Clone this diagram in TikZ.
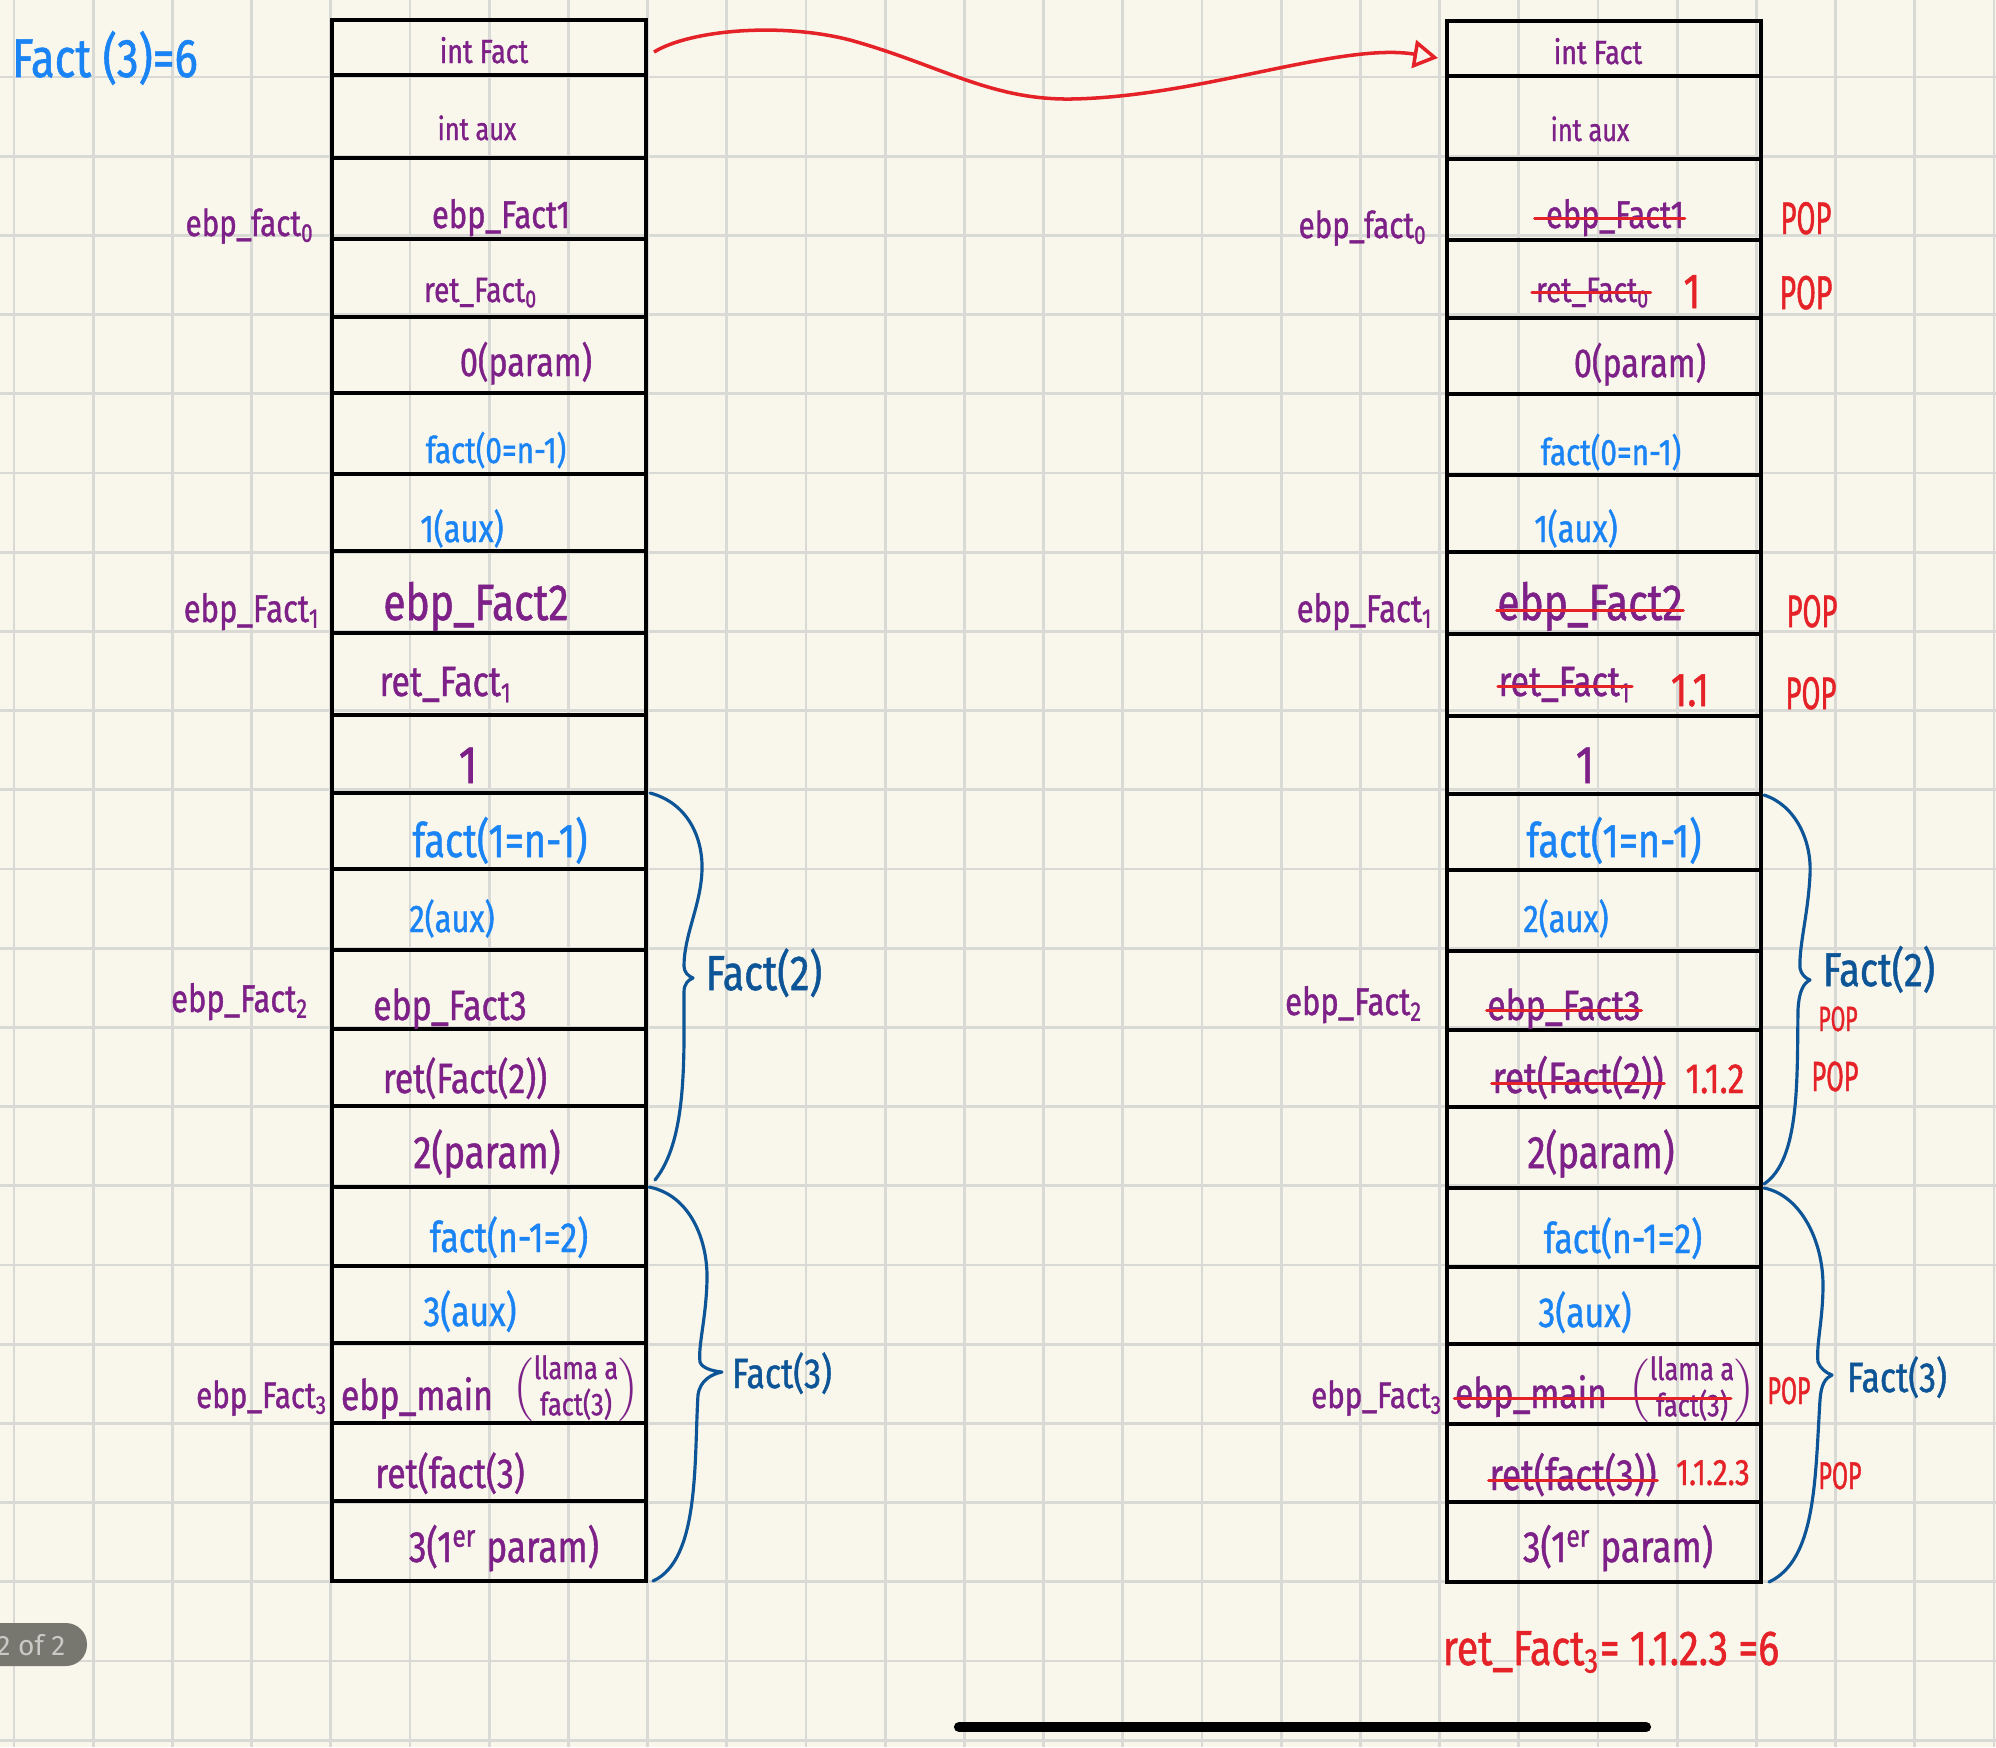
\documentclass[tikz,border=0pt]{standalone}
\usepackage{fontspec}
\setmainfont{Fira Sans}[FakeStretch=0.8, FakeBold=1]
\newfontfamily\popfont{Fira Sans}[FakeStretch=0.6, FakeBold=1]
\newfontfamily\uifont{Fira Sans}
\usetikzlibrary{arrows.meta,calc}

\definecolor{paper}{RGB}{249,247,235}
\definecolor{gridgray}{RGB}{217,217,213}
\definecolor{purp}{RGB}{125,32,135}
\definecolor{lblue}{RGB}{26,132,245}
\definecolor{dblue}{RGB}{13,85,151}
\definecolor{penred}{RGB}{229,34,40}
\definecolor{badge}{RGB}{119,119,111}
\definecolor{badgetext}{RGB}{201,201,197}

\newcommand{\hsz}[1]{\fontsize{#1}{#1}\selectfont}

\tikzset{
    gridline/.style={gridgray, line width=0.8pt},
    stackline/.style={black, line width=1.3pt},
    cellp/.style={text=purp, anchor=base, inner sep=0pt},
    cellb/.style={text=lblue, anchor=base, inner sep=0pt},
    popred/.style={text=penred, anchor=base, inner sep=0pt},
    bracelbl/.style={text=dblue, anchor=base, inner sep=0pt},
    strike/.style={penred, line width=0.9pt, line cap=round},
    brace/.style={dblue, line width=0.9pt, line cap=round, line join=round},
}

\begin{document}
\begin{tikzpicture}[x=0.01cm, y=-0.01cm]
    \useasboundingbox (0,0) rectangle (1996,1747);
    \fill[paper] (0,0) rectangle (1996,1747);

    % squared paper
    \foreach \k in {0,...,25}{
            {\draw[gridline] ({14+79.2*\k},0) -- ({14+79.2*\k},1747);}
    }
    \foreach \k in {0,...,21}{
            {\draw[gridline] (0,{77+79.2*\k}) -- (1996,{77+79.2*\k});}
    }

    % the two stacks
    \foreach \sx/\sy in {332/0,1447/1}{
        \begin{scope}[shift={(\sx,\sy)}]
            \draw[stackline] (0,20) rectangle (314,1581);
            \foreach \r in {75,158,239,317,393,474,551,633,715,793,869,950,1029,1106,1187,1266,1343,1423,1501}{
                    {\draw[stackline] (0,\r) -- (314,\r);}
            }
        \end{scope}
    }

    \node[cellb, font=\hsz{15.5}] (title) at (105,77) {Fact (3)=6};

    % left stack
    \node[cellp, font=\hsz{9.5}] (l1) at (484,63) {int Fact};
    \node[cellp, font=\hsz{9}] (l2) at (477,140) {int aux};
    \node[cellp, font=\hsz{11}] (l3) at (501,228) {ebp\_Fact1};
    \node[cellp, font=\hsz{10}] (l4) at (481,302) {ret\_Fact\textsubscript{0}};
    \node[cellp, font=\hsz{11.5}] (l5) at (526,376) {0(param)};
    \node[cellb, font=\hsz{10.5}] (l6) at (496,463) {fact(0=n-1)};
    \node[cellb, font=\hsz{11}] (l7) at (462,542) {1(aux)};
    \node[cellp, font=\hsz{14.5}] (l8) at (476,620) {ebp\_Fact2};
    \node[cellp, font=\hsz{12}] (l9) at (446,696) {ret\_Fact\textsubscript{1}};
    \node[cellp, font=\hsz{15}] (l10) at (468,783) {1};
    \node[cellb, font=\hsz{13.5}] (l11) at (500,857) {fact(1=n-1)};
    \node[cellb, font=\hsz{11}] (l12) at (452,932) {2(aux)};
    \node[cellp, font=\hsz{12}] (l13) at (450,1020) {ebp\_Fact3};
    \node[cellp, font=\hsz{12}] (l14) at (465,1093) {ret(Fact(2))};
    \node[cellp, font=\hsz{13}] (l15) at (487,1168) {2(param)};
    \node[cellb, font=\hsz{12}] (l16) at (509,1252) {fact(n-1=2)};
    \node[cellb, font=\hsz{12}] (l17) at (470,1326) {3(aux)};
    \node[cellp, font=\hsz{12}] (l18) at (417,1410) {ebp\_main};
    \node[cellp, font=\hsz{9}, anchor=center] (l18n) at (576,1390)
        {$\left(\begin{tabular}{@{}c@{}}llama a\\fact(3)\end{tabular}\right)$};
    \node[cellp, font=\hsz{12}] (l19) at (450,1488) {ret(fact(3)};
    \node[cellp, font=\hsz{12.5}] (l20) at (504,1562) {3(1\textsuperscript{er} param)};

    \node[cellp, font=\hsz{10.5}] (ls0) at (250,236) {ebp\_fact\textsubscript{0}};
    \node[cellp, font=\hsz{11}] (ls1) at (252,622) {ebp\_Fact\textsubscript{1}};
    \node[cellp, font=\hsz{11}] (ls2) at (240,1012) {ebp\_Fact\textsubscript{2}};
    \node[cellp, font=\hsz{10.5}] (ls3) at (262,1408) {ebp\_Fact\textsubscript{3}};

    % right stack
    \node[cellp, font=\hsz{9.5}] (r1) at (1598,64) {int Fact};
    \node[cellp, font=\hsz{9}] (r2) at (1590,141) {int aux};
    \node[cellp, font=\hsz{11}] (r3) at (1615,228) {ebp\_Fact1};
    \node[cellp, font=\hsz{10}] (r4) at (1593,302) {ret\_Fact\textsubscript{0}};
    \node[cellp, font=\hsz{11.5}] (r5) at (1640,377) {0(param)};
    \node[cellb, font=\hsz{10.5}] (r6) at (1611,465) {fact(0=n-1)};
    \node[cellb, font=\hsz{11}] (r7) at (1576,542) {1(aux)};
    \node[cellp, font=\hsz{14.5}] (r8) at (1590,620) {ebp\_Fact2};
    \node[cellp, font=\hsz{12}] (r9) at (1565,696) {ret\_Fact\textsubscript{1}};
    \node[cellp, font=\hsz{15}] (r10) at (1585,783) {1};
    \node[cellb, font=\hsz{13.5}] (r11) at (1614,857) {fact(1=n-1)};
    \node[cellb, font=\hsz{11}] (r12) at (1566,932) {2(aux)};
    \node[cellp, font=\hsz{12}] (r13) at (1564,1020) {ebp\_Fact3};
    \node[cellp, font=\hsz{12.5}] (r14) at (1578,1093) {ret(Fact(2))};
    \node[cellp, font=\hsz{13}] (r15) at (1601,1168) {2(param)};
    \node[cellb, font=\hsz{12}] (r16) at (1623,1253) {fact(n-1=2)};
    \node[cellb, font=\hsz{12}] (r17) at (1585,1327) {3(aux)};
    \node[cellp, font=\hsz{12}] (r18) at (1531,1408) {ebp\_main};
    \node[cellp, font=\hsz{9}, anchor=center] (r18n) at (1692,1391)
        {$\left(\begin{tabular}{@{}c@{}}llama a\\fact(3)\end{tabular}\right)$};
    \node[cellp, font=\hsz{12.5}] (r19) at (1573,1490) {ret(fact(3))};
    \node[cellp, font=\hsz{12.5}] (r20) at (1618,1562) {3(1\textsuperscript{er} param)};

    \node[cellp, font=\hsz{10.5}] (rs0) at (1363,238) {ebp\_fact\textsubscript{0}};
    \node[cellp, font=\hsz{11}] (rs1) at (1365,622) {ebp\_Fact\textsubscript{1}};
    \node[cellp, font=\hsz{11}] (rs2) at (1354,1015) {ebp\_Fact\textsubscript{2}};
    \node[cellp, font=\hsz{10.5}] (rs3) at (1377,1408) {ebp\_Fact\textsubscript{3}};

    % crossed out on the way back
    \draw[strike] ([xshift=-3pt]r3.mid west) -- (r3.mid east);
    \draw[strike] ([xshift=-1pt]r4.mid west) -- (r4.mid east);
    \draw[strike] (r8.mid west) -- (r8.mid east);
    \draw[strike] (r9.mid west) -- (r9.mid east);
    \draw[strike] (r13.mid west) -- (r13.mid east);
    \draw[strike] (r14.mid west) -- (r14.mid east);
    \draw[strike] (r18.mid west) -- ($(r18.mid west -| r18n.east)+(-25,0)$);
    \draw[strike] (r19.mid west) -- (r19.mid east);

    \node[popred, font=\hsz{14}] (rv4) at (1692,308) {1};
    \node[popred, font=\hsz{13.5}] (rv9) at (1690,706) {1.1};
    \node[popred, font=\hsz{12}] (rv14) at (1715,1093) {1.1.2};
    \node[popred, font=\hsz{10.5}] (rv19) at (1713,1485) {1.1.2.3};

    \node[popred, font=\popfont\hsz{13}] (p3) at (1806,234) {POP};
    \node[popred, font=\popfont\hsz{13.5}] (p4) at (1806,309) {POP};
    \node[popred, font=\popfont\hsz{13}] (p8) at (1812,627) {POP};
    \node[popred, font=\popfont\hsz{13}] (p9) at (1811,709) {POP};
    \node[popred, font=\popfont\hsz{10}] (p13) at (1838,1031) {POP};
    \node[popred, font=\popfont\hsz{12}] (p14) at (1835,1091) {POP};
    \node[popred, font=\popfont\hsz{11}] (p18) at (1789,1404) {POP};
    \node[popred, font=\popfont\hsz{11}] (p19) at (1840,1489) {POP};

    % braces
    \draw[brace] (650,793) .. controls (688,803) and (703,838) .. (702,870)
        .. controls (701,905) and (684,935) .. (684,966)
        .. controls (684,972) and (688,976) .. (693,978)
        .. controls (688,980) and (684,984) .. (684,992)
        .. controls (684,1060) and (687,1140) .. (655,1180);
    \draw[brace] (649,1187) .. controls (690,1195) and (708,1240) .. (707,1280)
        .. controls (706,1320) and (698,1345) .. (700,1362)
        .. controls (702,1368) and (712,1371) .. (722,1372)
        .. controls (712,1374) and (700,1380) .. (698,1395)
        .. controls (694,1460) and (700,1560) .. (653,1581);
    \draw[brace] (1764,795) .. controls (1795,805) and (1812,840) .. (1810,875)
        .. controls (1808,915) and (1799,945) .. (1800,968)
        .. controls (1801,974) and (1805,978) .. (1810,980)
        .. controls (1804,983) and (1799,990) .. (1798,1010)
        .. controls (1797,1080) and (1800,1160) .. (1764,1184);
    \draw[brace] (1764,1188) .. controls (1800,1195) and (1823,1240) .. (1823,1285)
        .. controls (1823,1320) and (1816,1345) .. (1818,1362)
        .. controls (1820,1368) and (1826,1373) .. (1832,1375)
        .. controls (1825,1378) and (1821,1385) .. (1820,1400)
        .. controls (1815,1480) and (1816,1560) .. (1769,1582);

    \node[bracelbl, font=\hsz{14}] (b2l) at (764,990) {Fact(2)};
    \node[bracelbl, font=\hsz{12}] (b3l) at (782,1388) {Fact(3)};
    \node[bracelbl, font=\hsz{13.5}] (b2r) at (1879,986) {Fact(2)};
    \node[bracelbl, font=\hsz{12}] (b3r) at (1897,1392) {Fact(3)};

    % return arrow between the tops
    \coordinate (arrS) at (654,52);
    \coordinate (arrE) at (1438,58);
    \draw[penred, line width=1pt, -{Triangle[open, length=7pt, width=8pt]}]
        (arrS) .. controls (690,30) and (780,22) .. (850,40)
        .. controls (940,65) and (990,100) .. (1071,99)
        .. controls (1200,97) and (1340,42) .. (arrE);

    \node[popred, font=\hsz{14}] (result) at (1611,1665) {ret\_Fact\textsubscript{3}= 1.1.2.3 =6};

    % screen bits
    \fill[badge, rounded corners=6pt] (-40,1623) rectangle (87,1666);
    \node[text=badgetext, font=\uifont\hsz{8}, anchor=base, inner sep=0pt] (pager) at (31,1655) {2 of 2};
    \draw[line width=2.9pt, line cap=round] (959,1727) -- (1646,1727);

\end{tikzpicture}
\end{document}
